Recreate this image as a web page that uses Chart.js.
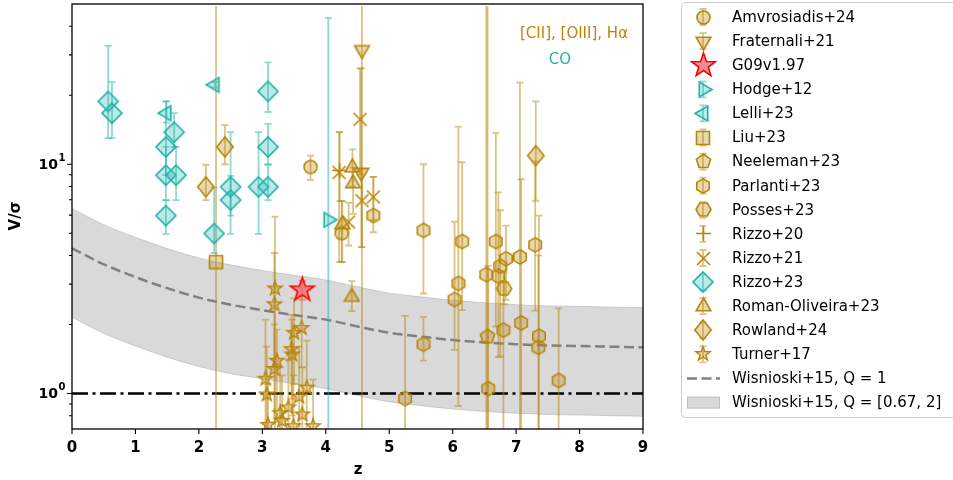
<!DOCTYPE html>
<html><head><meta charset="utf-8">
<script src="https://cdn.jsdelivr.net/npm/chart.js@4.4.0/dist/chart.umd.min.js"></script>
<style>html,body{margin:0;padding:0;background:#fff}canvas{display:block}</style>
</head><body>
<canvas id="c" width="953" height="480"></canvas>
<script>
const GOLD='#b8860b', TEAL='#20b2aa';
// each point: [z, V/sigma, bottom of error bar, top of error bar]
const amvrosiadis24=[[3.76,9.73,8.55,10.9],[4.25,5.0,3.75,6.9]];
const fraternali21=[[4.57,31.5,0.5,100],[4.56,9.2,4.35,26.2]];
const g09=[[3.63,2.83,2.56,3.1]];
const hodge12=[[4.04,5.72,0.5,43.5]];
const lelli23=[[1.49,16.7,15.2,18.8],[2.25,22.2,21.6,22.8]];
const liu23=[[2.27,3.74,0.5,100]];
const neeleman23=[[6.55,1.77,0.5,100]];
const parlanti23=[[4.75,5.97,5.05,8.8],[5.54,5.14,2.73,10.0],[5.54,1.64,1.39,2.16],[5.25,0.95,0.5,2.18],
  [6.03,2.57,1.55,5.62],[6.09,3.02,0.88,14.6],[6.15,4.60,2.31,10.2],[6.53,3.30,0.5,100],[6.56,1.05,0.5,3.6],
  [6.68,4.60,1.96,13.7],[6.72,3.25,1.44,7.54],[6.75,3.59,1.45,6.3],[6.84,3.87,2.56,5.40],[6.80,1.89,0.5,3.1],
  [7.06,3.94,0.5,22.7],[7.08,2.03,0.5,8.6],[7.30,4.45,2.30,10.3],[7.36,1.78,0.5,5.97],[7.35,1.59,0.5,4.0],
  [7.67,1.14,0.5,2.35]];
const posses23=[[6.81,2.87,2.45,3.4]];
const rizzo20=[[4.22,9.4,6.9,13.8]];
const rizzo21=[[4.21,9.2,3.75,13.8],[4.36,5.6,4.42,6.8],[4.54,15.7,9.0,26.2],[4.57,6.93,4.35,9.5],[4.75,7.2,5.7,8.8]];
const rizzo23=[[0.57,18.8,13.0,32.8],[0.63,16.7,13.0,22.8],[1.48,11.9,8.96,18.8],[1.48,8.96,6.98,11.9],
  [1.48,5.97,4.97,6.98],[1.61,13.8,11.9,16.7],[1.64,8.96,6.98,11.9],[2.24,4.99,4.1,7.9],[2.50,7.97,5.97,13.8],
  [2.50,6.98,4.97,8.9],[2.94,7.97,4.97,13.8],[3.09,7.97,6.98,9.95],[3.09,11.9,10.0,15.0],[3.09,20.8,16.9,27.8]];
const romanOliveira23=[[4.42,9.67,8.0,11.6],[4.43,8.24,6.07,9.67],[4.26,5.46,3.75,6.9],[4.41,2.64,2.29,3.09]];
const rowland24=[[2.11,7.97,6.98,9.95],[2.41,11.9,10.0,14.8],[7.31,10.9,6.93,18.8]];
const turner17=[[3.20,2.87,0.65,5.9],[3.19,2.45,1.30,4.1],[3.62,1.93,1.30,2.9],[3.50,1.84,1.10,2.6],
  [3.46,1.56,0.95,2.2],[3.47,1.48,0.80,2.1],[3.23,1.39,0.85,1.9],[3.19,1.28,0.75,2.0],[3.05,1.16,0.70,2.1],
  [3.07,0.99,0.60,1.6],[3.70,1.06,0.70,1.7],[3.58,0.97,0.60,1.6],[3.28,0.82,0.55,1.3],[3.41,0.87,0.55,1.4],
  [3.31,0.76,0.50,1.2],[3.63,0.81,0.55,1.3],[3.09,0.73,0.50,1.1],[3.49,0.72,0.50,1.2],[3.80,0.72,0.50,1.15]];

// Wisnioski+15 model curve
const wisZ=[0,0.5,1,1.5,2,2.5,3,3.5,4,4.5,5,5.5,6,6.5,7,7.5,8,8.5,9];
const wisQ1=[4.30,3.66,3.22,2.88,2.62,2.44,2.31,2.20,2.10,1.96,1.84,1.77,1.71,1.67,1.64,1.62,1.61,1.60,1.59];
const wisHi=[6.41,5.45,4.80,4.29,3.90,3.64,3.44,3.28,3.13,2.92,2.74,2.64,2.55,2.49,2.44,2.41,2.40,2.38,2.37];
const wisLo=[2.15,1.83,1.61,1.44,1.31,1.22,1.16,1.10,1.05,0.98,0.92,0.885,0.855,0.835,0.82,0.81,0.805,0.80,0.795];

const xTicks=[0,1,2,3,4,5,6,7,8,9];
const yMajor=[1,10];
const yMinor=[0.8,0.9,2,3,4,5,6,7,8,9,20,30,40];

function fade(hex,a){
  let n=parseInt(hex.slice(1),16);
  return `rgba(${n>>16},${(n>>8)&255},${n&255},${a})`;
}

function marker(shape,r,fill,stroke,lw,sx){
  let s=Math.ceil(r*2+lw*2+2);
  let c=document.createElement('canvas'); c.width=c.height=s;
  let g=c.getContext('2d'); g.translate(s/2,s/2);
  g.beginPath();
  const poly=(n,rot)=>{
    for(let k=0;k<n;k++){
      let a=rot+k*2*Math.PI/n;
      let px=Math.cos(a)*r*(sx||1), py=Math.sin(a)*r;
      k?g.lineTo(px,py):g.moveTo(px,py);
    }
    g.closePath();
  };
  if(shape==='circle') g.arc(0,0,r,0,2*Math.PI);
  else if(shape==='triUp') poly(3,-Math.PI/2);
  else if(shape==='triDown') poly(3,Math.PI/2);
  else if(shape==='triLeft') poly(3,Math.PI);
  else if(shape==='triRight') poly(3,0);
  else if(shape==='square') poly(4,Math.PI/4);
  else if(shape==='diamond') poly(4,-Math.PI/2);
  else if(shape==='pentagon') poly(5,-Math.PI/2);
  else if(shape==='hexagon') poly(6,-Math.PI/2);
  else if(shape==='hexagon2') poly(6,0);
  else if(shape==='star'){
    for(let k=0;k<10;k++){
      let a=-Math.PI/2+k*Math.PI/5, rr=k%2?r*0.4:r;
      k?g.lineTo(Math.cos(a)*rr,Math.sin(a)*rr):g.moveTo(Math.cos(a)*rr,Math.sin(a)*rr);
    }
    g.closePath();
  }
  else if(shape==='plus'){g.moveTo(-r,0);g.lineTo(r,0);g.moveTo(0,-r);g.lineTo(0,r);fill=null;}
  else if(shape==='x'){g.moveTo(-r,-r);g.lineTo(r,r);g.moveTo(-r,r);g.lineTo(r,-r);fill=null;}
  if(fill){g.fillStyle=fill;g.fill();}
  g.strokeStyle=stroke; g.lineWidth=lw; g.lineJoin='miter'; g.stroke();
  return c;
}

const gFill=fade(GOLD,0.32), tFill=fade(TEAL,0.3);
const groups=[
  {label:'Amvrosiadis+24',data:amvrosiadis24,col:GOLD,m:marker('circle',6.5,gFill,GOLD,1.6)},
  {label:'Fraternali+21',data:fraternali21,col:GOLD,m:marker('triDown',8.5,gFill,GOLD,1.6)},
  {label:'G09v1.97',data:g09,col:'#ff0000',m:marker('star',12.5,'rgba(240,110,120,0.8)','#ff0000',1.6),noLegBar:true},
  {label:'Hodge+12',data:hodge12,col:TEAL,m:marker('triRight',8.5,tFill,TEAL,1.6)},
  {label:'Lelli+23',data:lelli23,col:TEAL,m:marker('triLeft',8.5,tFill,TEAL,1.6)},
  {label:'Liu+23',data:liu23,col:GOLD,m:marker('square',9.2,gFill,GOLD,1.6)},
  {label:'Neeleman+23',data:neeleman23,col:GOLD,m:marker('pentagon',7.5,gFill,GOLD,1.6)},
  {label:'Parlanti+23',data:parlanti23,col:GOLD,m:marker('hexagon',7.2,gFill,GOLD,1.6)},
  {label:'Posses+23',data:posses23,col:GOLD,m:marker('hexagon2',7.5,gFill,GOLD,1.6)},
  {label:'Rizzo+20',data:rizzo20,col:GOLD,m:marker('plus',7.5,null,GOLD,1.6)},
  {label:'Rizzo+21',data:rizzo21,col:GOLD,m:marker('x',6.5,null,GOLD,1.6)},
  {label:'Rizzo+23',data:rizzo23,col:TEAL,m:marker('diamond',10,tFill,TEAL,1.6)},
  {label:'Roman-Oliveira+23',data:romanOliveira23,col:GOLD,m:marker('triUp',8.5,gFill,GOLD,1.6)},
  {label:'Rowland+24',data:rowland24,col:GOLD,m:marker('diamond',10,gFill,GOLD,1.6,0.82)},
  {label:'Turner+17',data:turner17,col:GOLD,m:marker('star',7.5,gFill,GOLD,1.4)}
];

const pts=arr=>arr.map(p=>({x:p[0],y:p[1],lo:p[2],hi:p[3]}));
const line=(ys)=>wisZ.map((z,i)=>({x:z,y:ys[i]}));

let datasets=[
  {type:'line',data:line(wisHi),borderColor:'rgba(128,128,128,0.3)',borderWidth:1,pointRadius:0,
   fill:'+1',backgroundColor:'rgba(128,128,128,0.3)',cubicInterpolationMode:'monotone',order:20},
  {type:'line',data:line(wisLo),borderColor:'rgba(128,128,128,0.3)',borderWidth:1,pointRadius:0,
   fill:false,cubicInterpolationMode:'monotone',order:19},
  {type:'line',data:line(wisQ1),borderColor:'#808080',borderWidth:2.5,borderDash:[10,4.5],pointRadius:0,
   fill:false,cubicInterpolationMode:'monotone',order:18},
  {type:'line',data:[{x:0,y:1},{x:9,y:1}],borderColor:'#000',borderWidth:2.5,borderDash:[16,4.5,3,4.5],
   pointRadius:0,fill:false,order:17,isOne:true}
];
groups.forEach(gr=>{
  let red=gr.col==='#ff0000';
  datasets.push({type:'scatter',label:gr.label,data:pts(gr.data),pointStyle:gr.m,pointRadius:5,
    errColor:fade(gr.col,red?0.35:0.5),order:1});
});

const L=72,R=643,T=4,B=429;

const errorBars={
  id:'errorBars',
  afterDatasetDraw(chart,args){
    if(!chart.data.datasets[args.index].isOne) return;
    let ctx=chart.ctx, xs=chart.scales.x, ys=chart.scales.y, a=chart.chartArea;
    ctx.save();
    ctx.beginPath(); ctx.rect(a.left,a.top,a.right-a.left,a.bottom-a.top); ctx.clip();
    chart.data.datasets.forEach(ds=>{
      if(!ds.errColor) return;
      ctx.strokeStyle=ds.errColor; ctx.lineWidth=1.8;
      ds.data.forEach(p=>{
        let x=xs.getPixelForValue(p.x), y0=ys.getPixelForValue(p.lo), y1=ys.getPixelForValue(p.hi);
        ctx.beginPath();
        ctx.moveTo(x,y0); ctx.lineTo(x,y1);
        ctx.moveTo(x-3.5,y0); ctx.lineTo(x+3.5,y0);
        ctx.moveTo(x-3.5,y1); ctx.lineTo(x+3.5,y1);
        ctx.stroke();
      });
    });
    ctx.restore();
  }
};

const frame={
  id:'frame',
  afterDraw(chart){
    let ctx=chart.ctx, xs=chart.scales.x, ys=chart.scales.y;
    ctx.save();
    ctx.strokeStyle='#000'; ctx.lineWidth=1.3;
    ctx.strokeRect(L,T,R-L,B-T);
    ctx.lineWidth=1.1;
    ctx.beginPath();
    xTicks.forEach(v=>{let x=xs.getPixelForValue(v); ctx.moveTo(x,B); ctx.lineTo(x,B+5);});
    yMajor.forEach(v=>{let y=ys.getPixelForValue(v); ctx.moveTo(L,y); ctx.lineTo(L-5,y);});
    yMinor.forEach(v=>{let y=ys.getPixelForValue(v); ctx.moveTo(L,y); ctx.lineTo(L-3,y);});
    ctx.stroke();
    ctx.fillStyle='#000';
    ctx.font='bold 15px "DejaVu Sans"'; ctx.textAlign='center'; ctx.textBaseline='middle';
    xTicks.forEach(v=>ctx.fillText(String(v),xs.getPixelForValue(v),448));
    ctx.fillText('z',358,470);
    yMajor.forEach(v=>{
      let y=ys.getPixelForValue(v);
      ctx.font='bold 14px "DejaVu Sans"'; ctx.textAlign='right';
      ctx.fillText('10',58,y+1);
      ctx.font='bold 10px "DejaVu Sans"'; ctx.textAlign='left';
      ctx.fillText(String(Math.round(Math.log10(v))),58.5,y-6);
    });
    ctx.save();
    ctx.translate(16,216); ctx.rotate(-Math.PI/2);
    ctx.font='bold 15px "DejaVu Sans"'; ctx.textAlign='center';
    ctx.fillText('V/σ',0,0);
    ctx.restore();
    // annotations
    ctx.font='15px "DejaVu Sans"'; ctx.textAlign='center';
    ctx.fillStyle=GOLD; ctx.fillText('[CII], [OIII], Hα',574,34);
    ctx.fillStyle=TEAL; ctx.fillText('CO',560,60);
    // legend
    ctx.fillStyle='rgba(255,255,255,0.8)'; ctx.strokeStyle='#cccccc'; ctx.lineWidth=1;
    ctx.beginPath(); ctx.roundRect(681.5,2.5,290,415,4); ctx.fill(); ctx.stroke();
    let mx=703, tx=732, y0=17, dy=24.1;
    ctx.font='15px "DejaVu Sans"'; ctx.textAlign='left'; ctx.textBaseline='middle';
    groups.forEach((gr,i)=>{
      let y=y0+i*dy;
      if(!gr.noLegBar){
        ctx.strokeStyle=fade(gr.col,0.5); ctx.lineWidth=1.8;
        ctx.beginPath();
        ctx.moveTo(mx,y-8); ctx.lineTo(mx,y+8);
        ctx.moveTo(mx-3.5,y-8); ctx.lineTo(mx+3.5,y-8);
        ctx.moveTo(mx-3.5,y+8); ctx.lineTo(mx+3.5,y+8);
        ctx.stroke();
      }
      ctx.drawImage(gr.m,Math.round(mx-gr.m.width/2),Math.round(y-gr.m.height/2));
      ctx.fillStyle='#000'; ctx.fillText(gr.label,tx,y+1);
    });
    let y=y0+groups.length*dy;
    ctx.strokeStyle='#808080'; ctx.lineWidth=2.5; ctx.setLineDash([10,4.5]);
    ctx.beginPath(); ctx.moveTo(687,y); ctx.lineTo(720,y); ctx.stroke();
    ctx.setLineDash([]);
    ctx.fillStyle='#000'; ctx.fillText('Wisnioski+15, Q = 1',tx,y+1);
    y+=dy;
    ctx.fillStyle='rgba(128,128,128,0.3)'; ctx.strokeStyle='rgba(128,128,128,0.3)'; ctx.lineWidth=1;
    ctx.fillRect(687,y-6,33,12); ctx.strokeRect(687.5,y-5.5,32,11);
    ctx.fillStyle='#000'; ctx.fillText('Wisnioski+15, Q = [0.67, 2]',tx,y+1);
    ctx.restore();
  }
};

new Chart(document.getElementById('c'),{
  type:'scatter',
  data:{datasets},
  options:{
    responsive:false,animation:false,
    layout:{padding:{top:T,right:953-R,left:0,bottom:0}},
    plugins:{legend:{display:false},tooltip:{enabled:false}},
    scales:{
      x:{type:'linear',min:0,max:9,grid:{display:false},border:{display:false},ticks:{display:false},
         afterFit(s){s.height=480-B;}},
      y:{type:'logarithmic',min:0.705,max:49,grid:{display:false},border:{display:false},ticks:{display:false},
         afterFit(s){s.width=L;}}
    }
  },
  plugins:[errorBars,frame]
});
</script>
</body></html>
